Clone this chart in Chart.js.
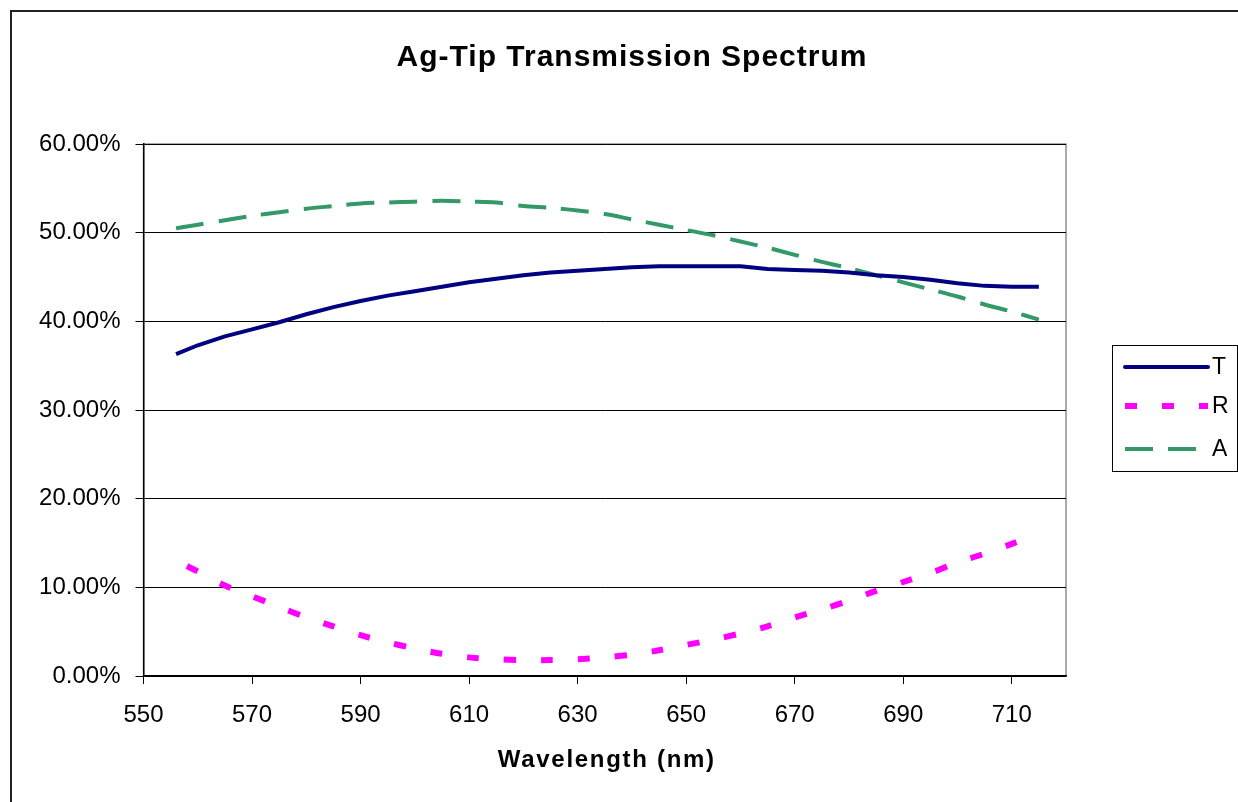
<!DOCTYPE html>
<html>
<head>
<meta charset="utf-8">
<title>Ag-Tip Transmission Spectrum</title>
<script src="https://cdn.jsdelivr.net/npm/chart.js@4.4.1/dist/chart.umd.min.js"></script>
<style>
    html, body { margin: 0; padding: 0; background: #fff; }
    #wrap { width: 1238px; height: 802px; position: relative; }
</style>
</head>
<body>
<div id="wrap"><canvas id="spectrum"></canvas></div>
<script>
const wavelengthTA = [556, 560, 565, 570, 575, 580, 585, 590, 595, 600, 605, 610, 615, 620, 625, 630, 635, 640, 645, 650, 655, 660, 665, 670, 675, 680, 685, 690, 695, 700, 705, 710, 715];
const transT = [36.3, 37.3, 38.3, 39.1, 39.9, 40.8, 41.6, 42.3, 42.9, 43.4, 43.9, 44.4, 44.8, 45.2, 45.5, 45.7, 45.9, 46.1, 46.2, 46.2, 46.2, 46.2, 45.9, 45.8, 45.7, 45.5, 45.2, 45.0, 44.7, 44.3, 44.0, 43.9, 43.9];
const absA = [50.5, 50.9, 51.4, 51.9, 52.3, 52.7, 53.0, 53.3, 53.4, 53.5, 53.6, 53.5, 53.4, 53.0, 52.8, 52.5, 52.1, 51.5, 50.9, 50.3, 49.7, 49.0, 48.3, 47.5, 46.7, 46.0, 45.2, 44.4, 43.6, 42.8, 41.9, 41.1, 40.2];

const wavelengthR = [558, 560, 565, 570, 575, 580, 585, 590, 595, 600, 605, 610, 615, 620, 625, 630, 635, 640, 645, 650, 655, 660, 665, 670, 675, 680, 685, 690, 695, 700, 705, 710, 715];
const reflR = [12.4, 11.8, 10.2, 9.0, 7.8, 6.6, 5.6, 4.6, 3.8, 3.1, 2.5, 2.1, 1.9, 1.8, 1.8, 1.9, 2.1, 2.4, 2.9, 3.5, 4.1, 4.8, 5.6, 6.6, 7.5, 8.5, 9.6, 10.6, 11.6, 12.8, 13.8, 14.9, 16.0];

const xTicks = [550, 570, 590, 610, 630, 650, 670, 690, 710];
const yTicks = [0, 10, 20, 30, 40, 50, 60];

const FONT = 'Arial, "Liberation Sans", sans-serif';

const toPoints = (xs, ys) => xs.map((x, i) => ({ x: x, y: ys[i] }));

// frame, titles and legend box like the Excel original
const decorPlugin = {
    id: "decor",
    beforeDraw(chart) {
        const ctx = chart.ctx;
        const area = chart.chartArea;
        ctx.save();
        ctx.fillStyle = "#fff";
        ctx.fillRect(0, 0, chart.width, chart.height);
        ctx.strokeStyle = "#222";
        ctx.lineWidth = 2;
        ctx.strokeRect(11, 11, chart.width + 20, chart.height + 20);
        ctx.strokeStyle = "#909090";
        ctx.lineWidth = 1.5;
        ctx.strokeRect(area.left, area.top, area.right - area.left, area.bottom - area.top);
        ctx.restore();
    },
    afterDraw(chart) {
        const ctx = chart.ctx;
        const area = chart.chartArea;
        ctx.save();
        ctx.fillStyle = "#000";
        ctx.textAlign = "center";
        ctx.textBaseline = "middle";
        ctx.font = "bold 30px " + FONT;
        ctx.letterSpacing = "1px";
        ctx.fillText("Ag-Tip Transmission Spectrum", 632, 58);
        ctx.font = "bold 24px " + FONT;
        ctx.letterSpacing = "1.7px";
        ctx.fillText("Wavelength (nm)", (area.left + area.right) / 2 + 2, 760);
        ctx.letterSpacing = "0px";

        // legend
        ctx.strokeStyle = "#000";
        ctx.lineWidth = 1;
        ctx.strokeRect(1112.5, 345.5, 125, 126);
        const rows = [367, 406, 449];
        chart.data.datasets.forEach((ds, i) => {
            ctx.save();
            ctx.strokeStyle = ds.borderColor;
            ctx.lineWidth = ds.borderWidth;
            ctx.lineCap = i === 0 ? "round" : "butt";
            ctx.setLineDash(ds.borderDash || []);
            ctx.beginPath();
            ctx.moveTo(1125, rows[i]);
            ctx.lineTo(1208, rows[i]);
            ctx.stroke();
            ctx.restore();
            ctx.font = "23px " + FONT;
            ctx.textAlign = "left";
            ctx.textBaseline = "middle";
            ctx.fillStyle = "#000";
            ctx.fillText(ds.label, 1212, rows[i] + 1);
        });
        ctx.restore();
    }
};

const chart = new Chart(document.getElementById("spectrum"), {
    type: "scatter",
    data: {
        datasets: [
            {
                label: "T",
                data: toPoints(wavelengthTA, transT),
                showLine: true,
                borderColor: "#000080",
                borderWidth: 4,
                pointRadius: 0,
                tension: 0
            },
            {
                label: "R",
                data: toPoints(wavelengthR, reflR),
                showLine: true,
                borderColor: "#ff00ff",
                borderWidth: 6,
                borderDash: [12, 25],
                pointRadius: 0,
                tension: 0.3
            },
            {
                label: "A",
                data: toPoints(wavelengthTA, absA),
                showLine: true,
                borderColor: "#339966",
                borderWidth: 4,
                borderDash: [28, 15],
                pointRadius: 0,
                tension: 0.3
            }
        ]
    },
    options: {
        responsive: true,
        maintainAspectRatio: false,
        animation: false,
        events: [],
        layout: { padding: { left: 0, top: 144, right: 172, bottom: 0 } },
        plugins: {
            legend: { display: false },
            title: { display: false },
            tooltip: { enabled: false }
        },
        scales: {
            x: {
                type: "linear",
                min: 550,
                max: 720,
                afterBuildTicks: (scale) => {
                    scale.ticks = xTicks.map((v) => ({ value: v }));
                },
                afterFit: (scale) => { scale.height = 126; },
                border: { display: true, color: "#000", width: 1.5 },
                grid: { drawOnChartArea: false, drawTicks: true, tickLength: 8, color: "#000" },
                ticks: { color: "#000", font: { family: FONT, size: 24 }, padding: 17, maxRotation: 0 }
            },
            y: {
                min: 0,
                max: 60,
                afterBuildTicks: (scale) => {
                    scale.ticks = yTicks.map((v) => ({ value: v }));
                },
                afterFit: (scale) => { scale.width = 143.5; },
                border: { display: true, color: "#000", width: 1.5 },
                grid: { color: "#000", lineWidth: 1, tickLength: 8 },
                ticks: {
                    color: "#000",
                    font: { family: FONT, size: 24 },
                    padding: 15,
                    callback: (v) => v.toFixed(2) + "%"
                }
            }
        }
    },
    plugins: [decorPlugin]
});
</script>
</body>
</html>
